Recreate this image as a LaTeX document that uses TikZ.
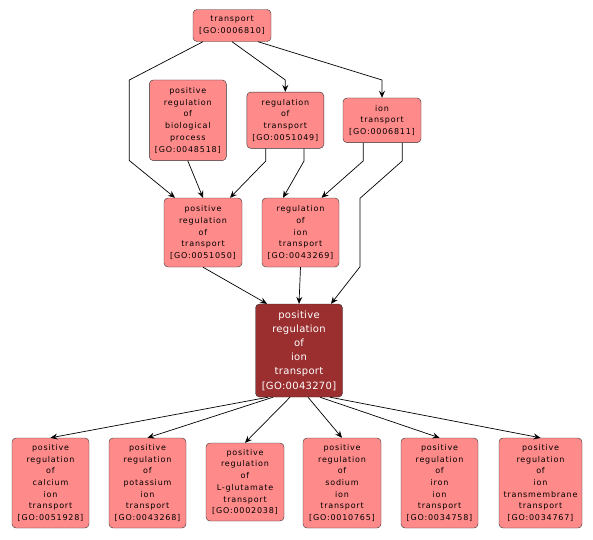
\documentclass[tikz,border=0pt]{standalone}
\usepackage{fontspec}
\usepackage{xcolor}
\newfontfamily\gofont[LetterSpace=10]{DejaVu Sans}
\newfontfamily\gofocusfont[LetterSpace=3]{DejaVu Sans}
\usetikzlibrary{arrows.meta}
\definecolor{goterm}{RGB}{255,138,138}
\definecolor{gofocus}{RGB}{155,47,47}

\begin{document}
\begin{tikzpicture}[x=1pt,y=-1pt,>={Stealth[length=7pt,width=6pt,inset=2.5pt]},
 term/.style={draw=black!80,fill=goterm,rounded corners=4pt,align=center,inner sep=0pt,minimum width=77pt,font=\gofont\fontsize{8}{11.7}\selectfont},
 focus/.style={term,fill=gofocus,text=white,font=\gofocusfont\fontsize{10}{14.2}\selectfont},
 link/.style={->,line width=0.7pt}]
\useasboundingbox (0,0) rectangle (593,539);
% upper levels
\node[term,minimum width=78pt,minimum height=32pt] (tr) at (232,25.5) {transport\\{[GO:0006810]}};
\node[term,minimum height=80.7pt] (prbp) at (187.8,120.3) {positive\\regulation\\of\\biological\\process\\{[GO:0048518]}};
\node[term,minimum height=56.3pt] (rt) at (285.3,120.2) {regulation\\of\\transport\\{[GO:0051049]}};
\node[term,minimum width=78pt,minimum height=44.7pt] (it) at (382,120.3) {ion\\transport\\{[GO:0006811]}};
\node[term,minimum width=78pt,minimum height=69pt] (prt) at (203,232.5) {positive\\regulation\\of\\transport\\{[GO:0051050]}};
\node[term,minimum height=69pt] (rit) at (300.5,232.5) {regulation\\of\\ion\\transport\\{[GO:0043269]}};
\node[focus,minimum width=87pt,minimum height=93pt] (main) at (299,350.5) {positive\\regulation\\of\\ion\\transport\\{[GO:0043270]}};
% children
\node[term,minimum height=90pt] (ca) at (50.5,483) {positive\\regulation\\of\\calcium\\ion\\transport\\{[GO:0051928]}};
\node[term,minimum height=90pt] (k) at (147.5,483) {positive\\regulation\\of\\potassium\\ion\\transport\\{[GO:0043268]}};
\node[term,minimum width=78pt,minimum height=78pt] (glu) at (245,482) {positive\\regulation\\of\\L-glutamate\\transport\\{[GO:0002038]}};
\node[term,minimum width=78pt,minimum height=90pt] (na) at (342,483) {positive\\regulation\\of\\sodium\\ion\\transport\\{[GO:0010765]}};
\node[term,minimum height=90pt] (fe) at (439.5,483) {positive\\regulation\\of\\iron\\ion\\transport\\{[GO:0034758]}};
\node[term,minimum width=83pt,minimum height=90pt] (tm) at (540.5,483) {positive\\regulation\\of\\ion\\transmembrane\\transport\\{[GO:0034767]}};
% edges
\draw[link] ([xshift=-29pt]tr.south) -- (129.3,80) -- (129.3,160.5) -- ([xshift=-28pt]prt.north);
\draw[link] (tr.south) -- (rt.north |- 0,80) -- (rt.north);
\draw[link] ([xshift=26pt]tr.south) -- (it.north |- 0,80) -- (it.north);
\draw[link] (prbp.south) -- (prt.north);
\draw[link] ([xshift=-19.6pt]rt.south) -- ++(0,12.5) -- ([xshift=27pt]prt.north);
\draw[link] ([xshift=18.7pt]rt.south) -- ++(0,12.5) -- ([xshift=-17.5pt]rit.north);
\draw[link] ([xshift=-18.7pt]it.south) -- ++(0,18) -- ([xshift=21pt]rit.north);
\draw[link] ([xshift=20.3pt]it.south) -- ++(0,18) -- (360,198.3) -- (360,266.7) -- ([xshift=32pt]main.north);
\draw[link] (prt.south) -- ([xshift=-32pt]main.north);
\draw[link] (rit.south) -- (main.north);
\foreach \c/\s in {ca/-31,k/-26,glu/-9,na/9,fe/21,tm/31}
 \draw[link] ([xshift=\s pt]main.south) -- (\c.north);
\end{tikzpicture}
\end{document}
